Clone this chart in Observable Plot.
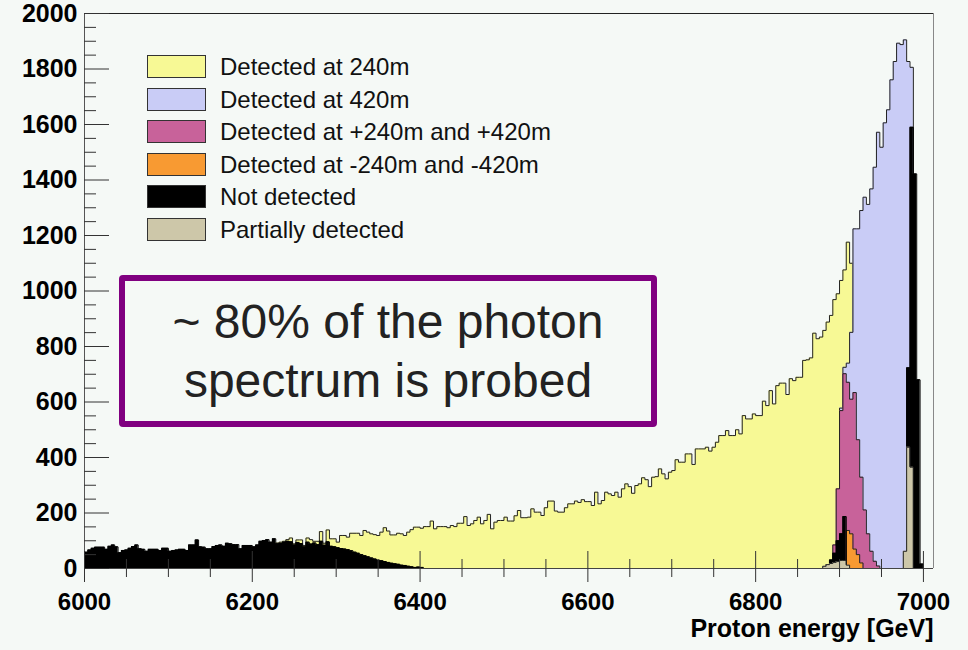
<!DOCTYPE html>
<html>
<head>
<meta charset="utf-8">
<script src="https://cdn.jsdelivr.net/npm/d3@7"></script>
<script src="https://cdn.jsdelivr.net/npm/@observablehq/plot@0.6"></script>
<style>
  html, body { margin: 0; padding: 0; background: #f5f9f6; }
  #wrap { position: relative; width: 968px; height: 650px; background: #f5f9f6; font-family: "Liberation Sans", Arial, sans-serif; }
  #chart { position: absolute; left: 0; top: 0; }
  .legend { position: absolute; left: 147px; top: 55px; }
  .row { position: relative; height: 32.5px; }
  .swatch { position: absolute; left: 0; top: 0; width: 57px; height: 21px; border: 1px solid #333; }
  .label { position: absolute; left: 73px; top: 0px; font-size: 24px; line-height: 24px; color: #111; white-space: nowrap; }
  .note { position: absolute; left: 119px; top: 275px; width: 538px; height: 152px; box-sizing: border-box;
          border: 6px solid #800080; border-radius: 4px; display: flex; align-items: center; justify-content: center;
          text-align: center; font-size: 48px; line-height: 59px; color: #222; }
</style>
</head>
<body>
<div id="wrap">
  <div id="chart"></div>
  <div class="legend" id="legend"></div>
  <div class="note">~ 80% of the photon<br>spectrum is probed</div>
</div>
<script>
// Histogram bins are 4 GeV wide; each series is listed bin by bin from its first bin edge.
const binWidth = 4;

// Detected at 240m
const det240Start = 6228;
const det240 = [
  92, 95, 98, 104, 110, 89, 103, 103, 83, 110, 104, 98, 98, 133, 91, 139, 107, 107, 95,
  119, 119, 113, 127, 127, 127, 119, 137, 131, 125, 122, 119, 131, 147, 135, 121, 121, 127, 125, 119,
  131, 140, 149, 149, 145, 151, 151, 171, 143, 151, 151, 151, 147, 155, 151, 163, 163, 187, 155, 161,
  173, 185, 161, 173, 195, 143, 167, 173, 173, 185, 171, 171, 190, 209, 183, 183, 185, 215, 203, 203,
  191, 219, 243, 243, 207, 203, 203, 219, 233, 233, 243, 238, 248,
  241, 241, 227, 275, 233, 245, 275, 269, 263, 275, 257, 287, 305, 295, 271, 299, 305, 327, 320, 295,
  329, 331, 359, 341, 323, 347, 353, 392, 383, 383, 413, 413, 375, 431, 431, 431, 437, 423, 437, 455,
  479, 479, 497, 479, 479, 500, 485, 551, 539, 539, 557, 551, 551, 603, 587, 641, 593, 659, 668,
  668, 627, 684, 677, 689, 689, 750, 752, 759, 848, 828, 834, 858, 888, 912, 969, 990, 1038, 1076, 1176, 1100
];

// Detected at 420m
const det420Start = 6900;
const det420 = [
  578, 725, 740, 851, 1224, 1224, 1290, 1338, 1312, 1368, 1446, 1572, 1518, 1606, 1653, 1761,
  1827, 1893, 1888, 1905, 1827, 1806
];

// Detected at +240m and +420m
const detPlusStart = 6892;
const detPlus = [85, 287, 569, 702, 671, 610, 634, 464, 329, 211, 125, 62, 26, 9];

// Detected at -240m and -420m
const detMinusStart = 6908;
const detMinus = [137, 125, 70, 50, 20];

// Not detected: low-energy tail, a small group near 6900 GeV and the peak near 6985 GeV
const notDetLowStart = 6000;
const notDetLow = [
  59, 67, 73, 77, 77, 77, 69, 80, 85, 78, 57, 65, 67, 73, 79, 85, 71, 69, 62, 69,
  69, 69, 65, 73, 73, 62, 65, 67, 69, 69, 65, 85, 85, 103, 78, 77, 71, 71, 79, 83,
  85, 80, 91, 89, 86, 86, 71, 83, 83, 83, 78, 85, 98, 101, 104, 95, 107, 89, 91, 95,
  98, 96, 85, 94, 90, 78, 95, 88, 92, 86, 98, 84, 96, 80, 78, 75, 72, 70, 68, 64,
  59, 55, 50, 46, 42, 38, 34, 30, 28, 25, 22, 19, 17, 15, 12, 11, 8, 6, 4, 5, 4
];
const notDetMidStart = 6880;
const notDetMid = [7, 14, 31, 55, 100, 125, 187];
const notDetHighStart = 6980;
const notDetHigh = [723, 1590, 1422, 680, 16];

// Partially detected
const partMidStart = 6880;
const partMid = [8, 14, 18, 22, 25, 29, 29, 12];
const partHighStart = 6976;
const partHigh = [62, 437, 365];

// Axis ticks
const xMajor = [6000, 6200, 6400, 6600, 6800, 7000];
const xMinor = [6050, 6100, 6150, 6250, 6300, 6350, 6450, 6500, 6550, 6650, 6700, 6750, 6850, 6900, 6950];
const yMajor = [0, 200, 400, 600, 800, 1000, 1200, 1400, 1600, 1800, 2000];
const yMinor = [50, 100, 150, 250, 300, 350, 450, 500, 550, 650, 700, 750, 850, 900, 950,
  1050, 1100, 1150, 1250, 1300, 1350, 1450, 1500, 1550, 1650, 1700, 1750, 1850, 1900, 1950];

const legendLabels = ["Detected at 240m", "Detected at 420m", "Detected at +240m and +420m",
  "Detected at -240m and -420m", "Not detected", "Partially detected"];
const colors = {
  det240: "#f7f995", det420: "#c9ccf6", detPlus: "#c8629a",
  detMinus: "#f89a32", notDet: "#000000", part: "#cdc7a9"
};
const legendColors = [colors.det240, colors.det420, colors.detPlus, colors.detMinus, colors.notDet, colors.part];

// Turn a list of bin contents into the outline points of a filled step histogram
function steps(start, values) {
  const pts = [{x: start, y: 0}];
  values.forEach((v, i) => pts.push({x: start + i * binWidth, y: v}));
  pts.push({x: start + values.length * binWidth, y: 0});
  return pts;
}

function hist(start, values, fill, stroke) {
  const pts = steps(start, values);
  return [
    Plot.areaY(pts, {x: "x", y: "y", curve: "step-after", fill}),
    Plot.lineY(pts, {x: "x", y: "y", curve: "step-after", stroke, strokeWidth: 1})
  ];
}

const W = 968, H = 650, mL = 84, mR = 35, mT = 13, mB = 82;
const innerW = W - mL - mR, innerH = H - mT - mB;
const plain = d3.format("d");

const chart = Plot.plot({
  width: W, height: H,
  marginLeft: mL, marginRight: mR, marginTop: mT, marginBottom: mB,
  x: {domain: [6000, 7012]},
  y: {domain: [0, 2000]},
  style: {background: "transparent", fontFamily: "Liberation Sans, Arial, sans-serif", color: "#000"},
  marks: [
    ...hist(det240Start, det240, colors.det240, "#222"),
    ...hist(det420Start, det420, colors.det420, "#222"),
    ...hist(detPlusStart, detPlus, colors.detPlus, "#222"),
    ...hist(detMinusStart, detMinus, colors.detMinus, "#222"),
    ...hist(notDetLowStart, notDetLow, colors.notDet, "#000"),
    ...hist(notDetMidStart, notDetMid, colors.notDet, "#000"),
    ...hist(notDetHighStart, notDetHigh, colors.notDet, "#000"),
    ...hist(partMidStart, partMid, colors.part, "#222"),
    ...hist(partHighStart, partHigh, colors.part, "#222"),
    // frame
    Plot.ruleY([2000], {stroke: "#222"}),
    Plot.ruleX([7012], {stroke: "#888"}),
    Plot.ruleX([6000], {stroke: "#555"}),
    Plot.ruleY([0], {stroke: "#444"}),
    // ticks
    Plot.ruleY(yMajor, {insetRight: innerW - 25, stroke: "#333"}),
    Plot.ruleY(yMinor, {insetRight: innerW - 12, stroke: "#333"}),
    Plot.ruleX(xMajor, {insetTop: innerH - 17, insetBottom: -14, stroke: "#333"}),
    Plot.ruleX(xMinor, {insetTop: innerH - 9, insetBottom: -9, stroke: "#333"}),
    Plot.axisY(yMajor, {tickSize: 0, tickPadding: 7, fontSize: 25, fontWeight: "bold", label: null, tickFormat: plain}),
    Plot.axisX(xMajor, {tickSize: 0, tickPadding: 24, fontSize: 24, fontWeight: "bold", label: null, tickFormat: plain}),
    Plot.text(["Proton energy [GeV]"], {text: d => d, frameAnchor: "bottom-right", dy: 68, textAnchor: "end",
      fontSize: 25, fontWeight: "bold"})
  ]
});
document.getElementById("chart").appendChild(chart);

const legend = document.getElementById("legend");
legendLabels.forEach((name, i) => {
  const row = document.createElement("div");
  row.className = "row";
  const sw = document.createElement("div");
  sw.className = "swatch";
  sw.style.background = legendColors[i];
  const lab = document.createElement("div");
  lab.className = "label";
  lab.textContent = name;
  row.appendChild(sw);
  row.appendChild(lab);
  legend.appendChild(row);
});
</script>
</body>
</html>
